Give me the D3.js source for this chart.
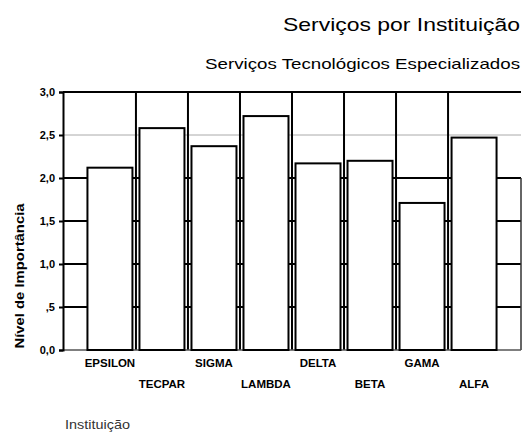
<!DOCTYPE html>
<html><head><meta charset="utf-8">
<script src="https://cdn.jsdelivr.net/npm/d3@7"></script>
<style>
html,body{margin:0;padding:0;background:#fff;}
svg text{font-family:"Liberation Sans",Arial,Helvetica,sans-serif;}
</style></head>
<body>
<svg id="chart" width="524" height="432"></svg>
<script>
const categories = ["EPSILON","TECPAR","SIGMA","LAMBDA","DELTA","BETA","GAMA","ALFA"];
const values = [2.12, 2.58, 2.37, 2.72, 2.17, 2.20, 1.71, 2.47];
const yTicks = [0, 0.5, 1.0, 1.5, 2.0, 2.5, 3.0];
const yTickLabels = ["0,0", ",5", "1,0", "1,5", "2,0", "2,5", "3,0"];
const title = "Serviços por Instituição";
const subtitle = "Serviços Tecnológicos Especializados";
const yTitle = "Nível de Importância";
const xTitle = "Instituição";

(function () {
const svg = d3.select("#chart");
const pLeft = 63, pRight = 521, pTop = 92, pBottom = 350;

const x = d3.scaleBand().domain(categories).range([pLeft, pRight])
  .paddingInner(0.135).paddingOuter(0.47);
const y = d3.scaleLinear().domain([0, 3]).range([pBottom, pTop]);

// titles
svg.append("text").attr("x", 520).attr("y", 31).attr("text-anchor", "end")
  .attr("font-size", 18.5).attr("textLength", 237).attr("lengthAdjust", "spacingAndGlyphs")
  .text(title);
svg.append("text").attr("x", 520).attr("y", 69).attr("text-anchor", "end")
  .attr("font-size", 15).attr("textLength", 315).attr("lengthAdjust", "spacingAndGlyphs")
  .text(subtitle);

// horizontal gridlines
const g = svg.append("g");
g.selectAll("line.h").data(yTicks.filter(d => d > 0)).join("line")
  .attr("x1", pLeft).attr("x2", pRight)
  .attr("y1", d => y(d)).attr("y2", d => y(d))
  .attr("stroke", d => d === 2.5 ? "#aaa" : "#000")
  .attr("stroke-width", d => d === 2.5 ? 1 : 2);

// vertical gridlines between bars
const gap = x.step() * x.paddingInner();
const vx = categories.slice(1).map(c => x(c) - gap / 2);
g.selectAll("line.v").data(vx).join("line")
  .attr("x1", d => d).attr("x2", d => d)
  .attr("y1", y(3)).attr("y2", y(0))
  .attr("stroke", "#000").attr("stroke-width", 2);
g.append("line").attr("x1", pRight).attr("x2", pRight)
  .attr("y1", y(2)).attr("y2", y(0)).attr("stroke", "#333").attr("stroke-width", 1.5);

// baseline
g.append("line").attr("x1", pLeft).attr("x2", pRight)
  .attr("y1", y(0)).attr("y2", y(0)).attr("stroke", "#555").attr("stroke-width", 1.5);

// bars
svg.append("g").selectAll("rect").data(values).join("rect")
  .attr("x", (d, i) => x(categories[i]))
  .attr("width", x.bandwidth())
  .attr("y", d => y(d))
  .attr("height", d => y(0) - y(d))
  .attr("fill", "#fff").attr("stroke", "#000").attr("stroke-width", 2);

// y axis
const yAxis = d3.axisLeft(y).tickValues(yTicks)
  .tickFormat((d, i) => yTickLabels[i]).tickSize(4).tickPadding(4);
const ya = svg.append("g").attr("transform", `translate(${pLeft},0)`).call(yAxis);
ya.select(".domain").attr("stroke", "#000").attr("stroke-width", 2);
ya.selectAll(".tick line").attr("stroke", "#000").attr("stroke-width", 2);
ya.selectAll(".tick text").attr("font-size", 11).attr("font-weight", "bold")
  .attr("fill", "#000").style("font-family", "'Liberation Sans',Arial,sans-serif");

// x labels (staggered)
svg.append("g").selectAll("text").data(categories).join("text")
  .attr("x", d => x(d) + x.bandwidth() / 2)
  .attr("y", (d, i) => i % 2 === 0 ? 367 : 388)
  .attr("text-anchor", "middle").attr("font-size", 11.5).attr("font-weight", "bold")
  .text(d => d);

// axis titles
svg.append("text").attr("transform", "translate(24,276) rotate(-90)")
  .attr("text-anchor", "middle").attr("font-size", 13.5).attr("font-weight", "bold")
  .attr("textLength", 145).attr("lengthAdjust", "spacingAndGlyphs")
  .text(yTitle);
svg.append("text").attr("x", 65).attr("y", 429)
  .attr("font-size", 12).attr("fill", "#333")
  .attr("textLength", 65).attr("lengthAdjust", "spacingAndGlyphs")
  .text(xTitle);
})();
</script>
</body></html>
